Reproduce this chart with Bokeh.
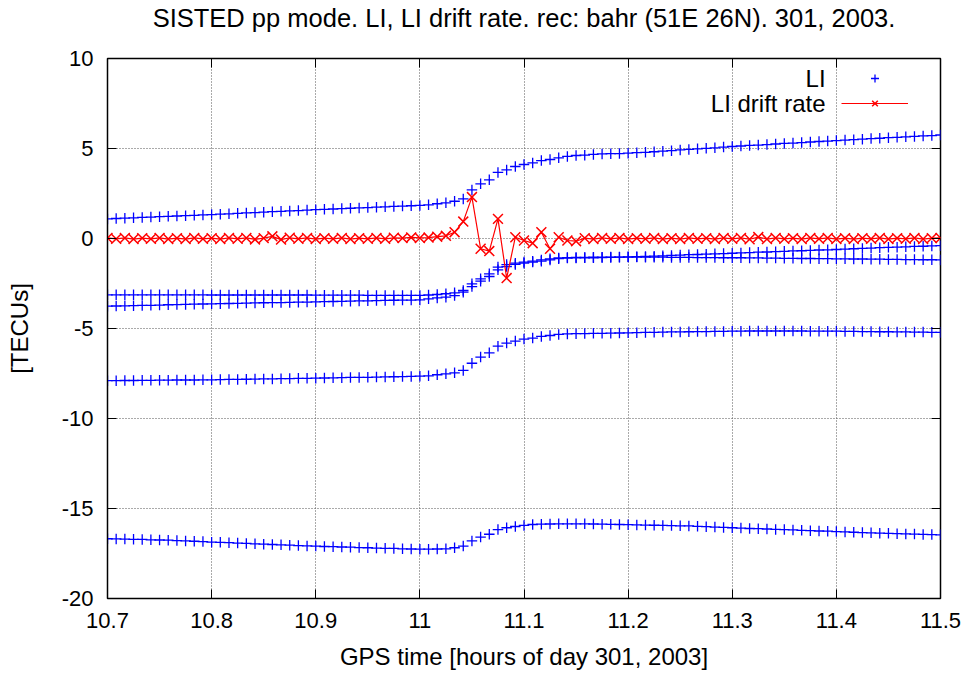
import numpy as np
from bokeh.plotting import figure
from bokeh.models import (Range1d, FixedTicker, LinearAxis, Legend, LegendItem,
                          Label, ColumnDataSource)
from bokeh.core.properties import value
from bokeh.embed import file_html
from bokeh.resources import INLINE

# ---------------- data ----------------
title_text = "SISTED pp mode. LI, LI drift rate. rec: bahr (51E 26N). 301, 2003."
x_label = "GPS time [hours of day 301, 2003]"
y_label = "[TECUs]"

t_start = 10.7          # hours
t_step_s = 30           # sampling interval, seconds
n_samples = 97

li_1 = [1.09, 1.11, 1.13, 1.15, 1.17, 1.19, 1.21, 1.23, 1.25, 1.27, 1.29, 1.31, 1.33,
        1.35, 1.37, 1.40, 1.42, 1.44, 1.46, 1.49, 1.51, 1.53, 1.55, 1.58, 1.60,
        1.62, 1.64, 1.66, 1.68, 1.70, 1.72, 1.74, 1.76, 1.78, 1.80, 1.82,
        1.84, 1.87, 1.93, 1.98, 2.07, 2.20, 2.70, 3.04, 3.26, 3.67, 3.81, 4.00, 4.11,
        4.20, 4.33, 4.39, 4.48, 4.56, 4.61, 4.63, 4.67, 4.70, 4.71, 4.72, 4.74, 4.77, 4.79,
        4.82, 4.85, 4.88, 4.92, 4.95, 4.98, 5.01, 5.04, 5.08, 5.11,
        5.14, 5.17, 5.19, 5.22, 5.25, 5.28, 5.30, 5.33, 5.36, 5.39, 5.41, 5.44,
        5.47, 5.49, 5.52, 5.55, 5.57, 5.60, 5.62, 5.65, 5.67, 5.70, 5.72, 5.75]

li_2 = [-3.13] * 12 + [-3.14] * 12 + [-3.15] * 6 + [-3.16] * 6 + \
       [-3.16, -3.14, -3.11, -3.07, -3.02, -2.89, -2.52, -2.24, -1.96, -1.59, -1.45, -1.37,
        -1.31, -1.26, -1.19, -1.13, -1.08, -1.06, -1.05, -1.05, -1.04, -1.04, -1.03, -1.03,
        -1.02, -1.01, -1.00,
        -0.98, -0.96, -0.94, -0.92, -0.90, -0.89, -0.87, -0.85, -0.84, -0.82,
        -0.80, -0.78, -0.76, -0.75, -0.73, -0.71, -0.69, -0.68, -0.66, -0.64, -0.63, -0.61,
        -0.59, -0.57, -0.55, -0.53, -0.51, -0.49, -0.48, -0.46, -0.44, -0.43, -0.41, -0.40]

li_3 = [-3.76, -3.75, -3.74, -3.73, -3.72, -3.71, -3.70, -3.68, -3.67, -3.66, -3.65, -3.64, -3.63,
        -3.62, -3.61, -3.60, -3.59, -3.58, -3.57, -3.56, -3.56, -3.55, -3.54, -3.53, -3.52,
        -3.51, -3.50, -3.49, -3.48, -3.47, -3.46, -3.45, -3.44, -3.43, -3.42, -3.42,
        -3.41, -3.35, -3.30, -3.26, -3.17, -2.98, -2.67, -2.37, -2.11, -1.74, -1.56, -1.44,
        -1.37, -1.31, -1.26, -1.19, -1.12, -1.09, -1.08, -1.07, -1.07, -1.06, -1.05, -1.04,
        -1.03, -1.03, -1.04,
        -1.04, -1.04, -1.05, -1.05, -1.05, -1.06, -1.06, -1.06, -1.07, -1.07,
        -1.07, -1.08, -1.08, -1.09, -1.09, -1.10, -1.10, -1.11, -1.11, -1.12, -1.12, -1.13,
        -1.13, -1.14, -1.14, -1.15, -1.15, -1.16, -1.16, -1.17, -1.17, -1.18, -1.18, -1.19]

li_4 = [-7.90, -7.90, -7.89, -7.89, -7.88, -7.88, -7.87, -7.87, -7.86, -7.86, -7.86, -7.85, -7.85,
        -7.84, -7.83, -7.83, -7.82, -7.81, -7.80, -7.80, -7.79, -7.78, -7.77, -7.77, -7.76,
        -7.75, -7.74, -7.73, -7.72, -7.72, -7.71, -7.70, -7.69, -7.68, -7.67, -7.66,
        -7.65, -7.63, -7.57, -7.52, -7.46, -7.33, -6.93, -6.59, -6.35, -5.98, -5.81, -5.70,
        -5.59, -5.53, -5.44, -5.39, -5.33, -5.30, -5.29, -5.28, -5.27, -5.27, -5.26, -5.25,
        -5.24, -5.23, -5.22,
        -5.21, -5.20, -5.19, -5.19, -5.18, -5.17, -5.17, -5.16, -5.16, -5.15,
        -5.15, -5.14, -5.14, -5.14, -5.14, -5.14, -5.14, -5.14, -5.15, -5.15, -5.15, -5.15,
        -5.16, -5.16, -5.17, -5.17, -5.18, -5.18, -5.19, -5.19, -5.20, -5.20, -5.21, -5.22]

li_5 = [-16.68, -16.69, -16.70, -16.71, -16.72, -16.74, -16.75, -16.76, -16.78, -16.80, -16.82,
        -16.84, -16.87,
        -16.88, -16.90, -16.92, -16.94, -16.96, -16.98, -17.00, -17.02, -17.04, -17.06, -17.08, -17.09,
        -17.11, -17.12, -17.14, -17.15, -17.17, -17.18, -17.20, -17.21, -17.22, -17.24, -17.25,
        -17.26, -17.26, -17.25, -17.24, -17.18, -17.09, -16.80, -16.59, -16.43, -16.17, -16.07,
        -16.00, -15.94, -15.89, -15.87, -15.86, -15.85, -15.85, -15.85, -15.85, -15.86, -15.87,
        -15.88, -15.89, -15.90, -15.91, -15.92,
        -15.93, -15.94, -15.95, -15.96, -15.97, -15.99, -16.01, -16.03, -16.05, -16.07,
        -16.09, -16.11, -16.12, -16.14, -16.16, -16.17, -16.19, -16.21, -16.23, -16.25, -16.26, -16.28,
        -16.30, -16.32, -16.34, -16.35, -16.37, -16.38, -16.40, -16.41, -16.42, -16.44, -16.45, -16.46]

li_drift = [0.03, -0.02, 0.03, -0.03, 0.02, -0.02, 0.03, -0.03, 0.02, -0.03, 0.03, -0.02,
            0.02, -0.03, 0.03, -0.02, 0.03, -0.05, 0.02, 0.12, -0.06, 0.04, -0.02, 0.03,
            -0.03, 0.02, -0.02, 0.03, -0.03, 0.02, -0.02, 0.03, -0.02, 0.04, 0.02, 0.06,
            0.03, 0.05, 0.10, 0.15, 0.35, 0.94, 2.30, -0.57, -0.70, 1.09, -2.20, 0.07,
            -0.11, -0.26, 0.35, -0.57, 0.07, -0.11, -0.15,
            0.02, -0.03, 0.03, -0.02, 0.03, -0.03, 0.02, -0.02, 0.03, -0.03, 0.02, -0.03,
            0.03, -0.02, 0.02, -0.03, 0.03, -0.02, 0.03, -0.04, 0.08, -0.03, 0.03, -0.02,
            0.02, -0.03, 0.03, -0.02, 0.03, -0.03, 0.02, -0.03, 0.02, -0.02, 0.03, -0.03,
            0.02, -0.02, 0.03, -0.03, 0.02, 0.03]

x_ticks = [10.7, 10.8, 10.9, 11.0, 11.1, 11.2, 11.3, 11.4, 11.5]
x_tick_labels = ["10.7", "10.8", "10.9", "11", "11.1", "11.2", "11.3", "11.4", "11.5"]
y_ticks = [-20, -15, -10, -5, 0, 5, 10]
y_tick_labels = ["-20", "-15", "-10", "-5", "0", "5", "10"]
legend_labels = ["LI", "LI drift rate"]

# ---------------- build ----------------
times = t_start + np.arange(n_samples) * t_step_s / 3600.0
li_series = [li_1, li_2, li_3, li_4, li_5]
li_x = np.concatenate([times[:len(s)] for s in li_series])
li_y = np.concatenate([np.array(s) for s in li_series])

FONT = "Liberation Sans"

p = figure(width=965, height=674, output_backend="svg", toolbar_location=None,
           x_range=Range1d(10.7, 11.5), y_range=Range1d(-20, 10),
           min_border_left=107, min_border_right=25, min_border_top=58, min_border_bottom=76)
p.background_fill_color = "white"
p.border_fill_color = "white"
p.outline_line_color = "black"
p.outline_line_width = 1.5

xt = FixedTicker(ticks=x_ticks)
yt = FixedTicker(ticks=y_ticks)

for ax, tk, labs in ((p.xaxis[0], xt, x_tick_labels), (p.yaxis[0], yt, y_tick_labels)):
    ax.ticker = tk
    ax.major_label_overrides = {v: l for v, l in zip(tk.ticks, labs)}
    ax.major_tick_in = 9
    ax.major_tick_out = 0
    ax.minor_tick_line_color = None
    ax.major_tick_line_color = "black"
    ax.axis_line_color = "black"
    ax.major_label_text_font = FONT
    ax.major_label_text_font_size = "22px"
    ax.major_label_text_color = "black"
    ax.axis_label_text_font = FONT
    ax.axis_label_text_font_size = "24px"
    ax.axis_label_text_font_style = "normal"
    ax.axis_label_text_color = "black"

p.xaxis[0].axis_label = x_label
p.xaxis[0].major_label_standoff = 14
p.xaxis[0].axis_label_standoff = 12
p.yaxis[0].axis_label = y_label
p.yaxis[0].major_label_standoff = 14
p.yaxis[0].axis_label_standoff = 26

# mirrored ticks on top (carrying the chart title as its label) and right
top_axis = LinearAxis(ticker=xt, major_tick_in=9, major_tick_out=0,
                      minor_tick_line_color=None, axis_line_color=None,
                      major_label_text_font_size="0px", major_label_standoff=0,
                      major_label_text_alpha=0,
                      axis_label=title_text, axis_label_standoff=27,
                      axis_label_text_font=FONT, axis_label_text_font_size="25.5px",
                      axis_label_text_font_style="normal", axis_label_text_color="black")
p.add_layout(top_axis, "above")
right_axis = LinearAxis(ticker=yt, major_tick_in=9, major_tick_out=0,
                        minor_tick_line_color=None, axis_line_color=None,
                        major_label_text_font_size="0px", major_label_standoff=0,
                        major_label_text_alpha=0)
p.add_layout(right_axis, "right")

for g, tk in ((p.xgrid[0], xt), (p.ygrid[0], yt)):
    g.ticker = tk
    g.grid_line_color = "#555555"
    g.grid_line_dash = "1 2"
    g.grid_line_width = 1

li_src = ColumnDataSource(dict(x=li_x, y=li_y))
r_li = p.scatter("x", "y", source=li_src, marker="cross", size=10.5,
                 line_color="#0000ff", line_width=1.3)

dr_src = ColumnDataSource(dict(x=times[:len(li_drift)], y=li_drift))
r_dl = p.line("x", "y", source=dr_src, line_color="#ff0000", line_width=1.2)
r_dx = p.scatter("x", "y", source=dr_src, marker="x", size=14,
                 line_color="#ff0000", line_width=1.5)

legend = Legend(items=[LegendItem(label=value(""), renderers=[r_li]),
                       LegendItem(label=value(""), renderers=[r_dl, r_dx])],
                location="top_right", border_line_color=None, background_fill_alpha=0,
                glyph_width=67, glyph_height=20, label_width=22, label_height=20,
                label_standoff=0, spacing=5, padding=0, margin=10)
p.add_layout(legend)

for txt, yv in zip(legend_labels, [8.89, 7.5]):
    p.add_layout(Label(x=11.3896, y=yv, text=txt, text_align="right",
                       text_baseline="middle", text_font=FONT,
                       text_font_size="24px", text_color="black"))

open("out.html", "w").write(file_html(p, INLINE))
